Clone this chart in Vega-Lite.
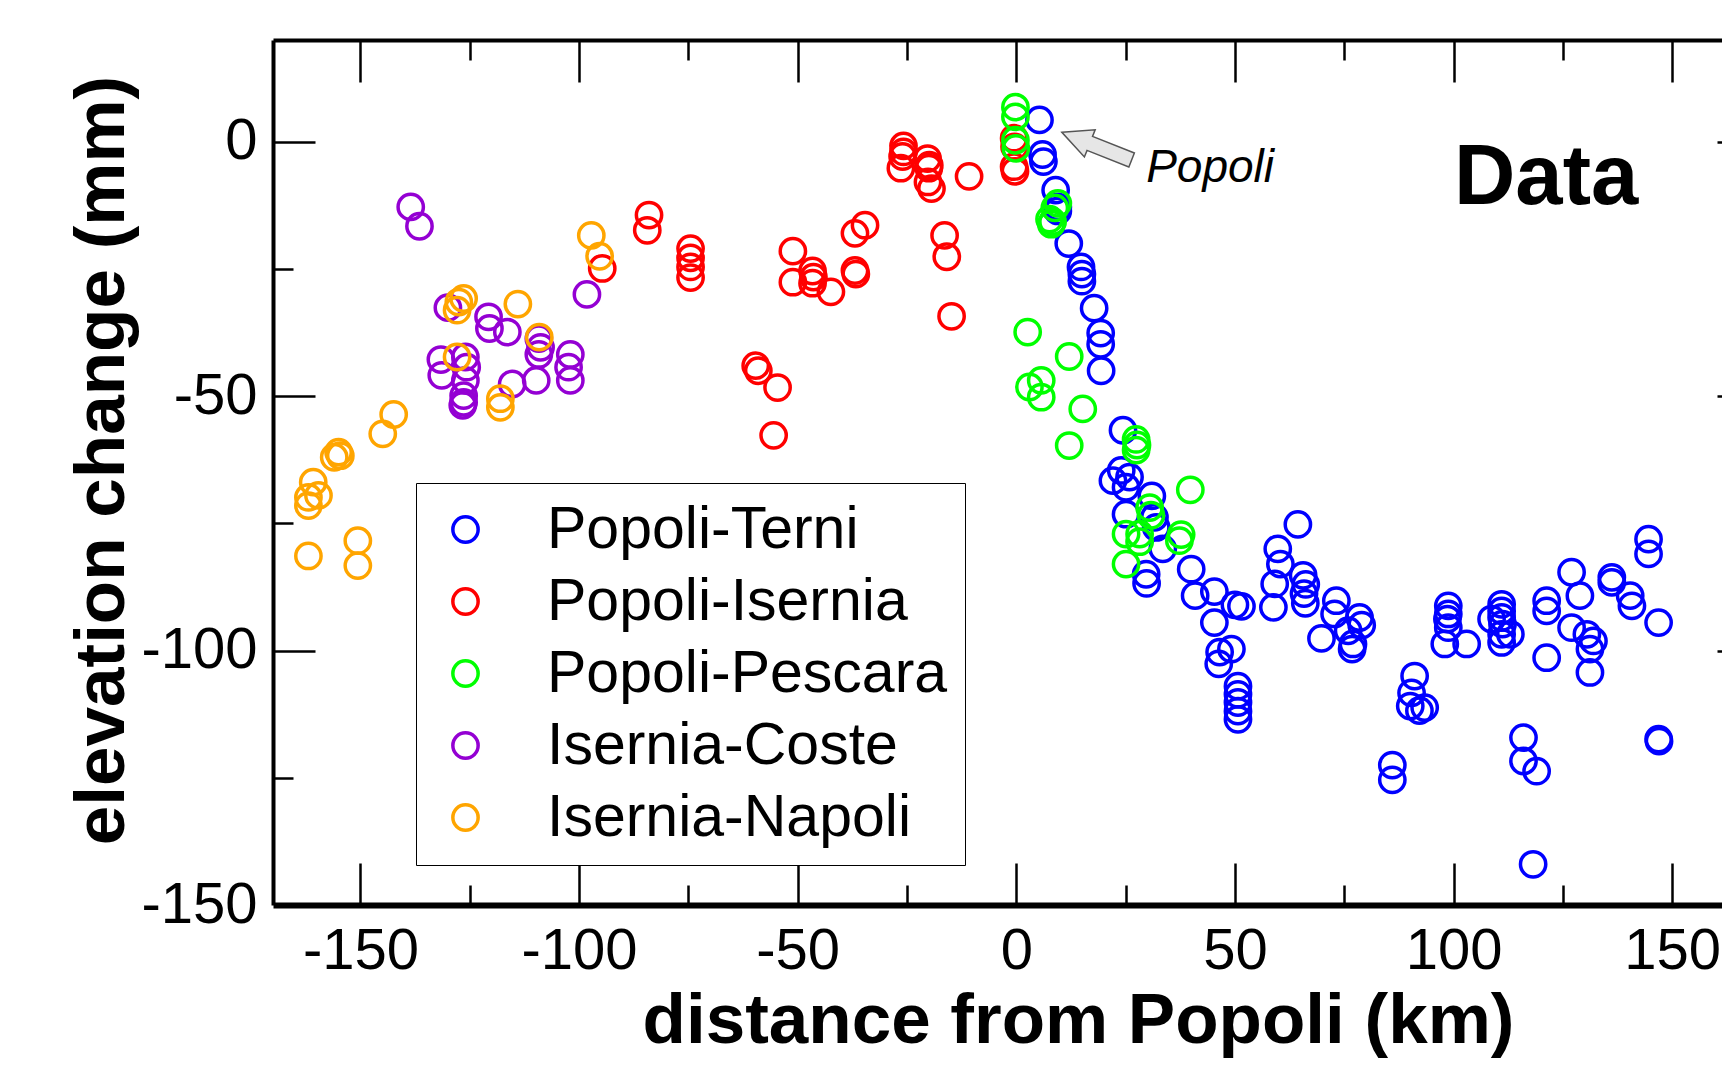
{
  "$schema": "https://vega.github.io/schema/vega-lite/v6.json",
  "width": 1449,
  "height": 865,
  "autosize": {"type": "none"},
  "padding": {"left": 273, "top": 40, "right": 0, "bottom": 160},
  "background": "white",
  "config": {
    "view": {"stroke": null},
    "font": "Liberation Sans",
    "axis": {"grid": false, "domainColor": "black", "tickColor": "black", "labelColor": "black", "titleColor": "black", "labelFlush": false}
  },
  "datasets": {
    "pts": [
      {"s":"Popoli-Terni","d":5.3,"e":4.3},{"s":"Popoli-Terni","d":6.0,"e":-2.5},{"s":"Popoli-Terni","d":6.2,"e":-3.9},{"s":"Popoli-Terni","d":9.0,"e":-9.5},{"s":"Popoli-Terni","d":9.5,"e":-12.8},{"s":"Popoli-Terni","d":9.5,"e":-13.6},{"s":"Popoli-Terni","d":12.0,"e":-20.0},{"s":"Popoli-Terni","d":14.8,"e":-24.6},{"s":"Popoli-Terni","d":15.0,"e":-26.0},{"s":"Popoli-Terni","d":15.0,"e":-27.4},{"s":"Popoli-Terni","d":17.8,"e":-32.7},{"s":"Popoli-Terni","d":19.3,"e":-37.6},{"s":"Popoli-Terni","d":19.3,"e":-39.8},{"s":"Popoli-Terni","d":19.4,"e":-45.0},
      {"s":"Popoli-Terni","d":24.4,"e":-56.7},{"s":"Popoli-Terni","d":24.0,"e":-64.6},{"s":"Popoli-Terni","d":25.9,"e":-65.9},{"s":"Popoli-Terni","d":22.1,"e":-66.6},{"s":"Popoli-Terni","d":25.1,"e":-67.9},{"s":"Popoli-Terni","d":31.0,"e":-69.6},{"s":"Popoli-Terni","d":25.1,"e":-73.2},{"s":"Popoli-Terni","d":31.6,"e":-73.8},{"s":"Popoli-Terni","d":32.0,"e":-75.8},{"s":"Popoli-Terni","d":33.5,"e":-80.0},{"s":"Popoli-Terni","d":29.8,"e":-86.8},{"s":"Popoli-Terni","d":29.7,"e":-85.0},
      {"s":"Popoli-Terni","d":40.0,"e":-84.0},{"s":"Popoli-Terni","d":40.9,"e":-89.2},{"s":"Popoli-Terni","d":45.3,"e":-88.4},{"s":"Popoli-Terni","d":45.3,"e":-94.5},{"s":"Popoli-Terni","d":50.0,"e":-91.0},{"s":"Popoli-Terni","d":51.5,"e":-91.3},{"s":"Popoli-Terni","d":46.5,"e":-100.3},{"s":"Popoli-Terni","d":49.2,"e":-99.7},{"s":"Popoli-Terni","d":46.3,"e":-102.6},
      {"s":"Popoli-Terni","d":50.7,"e":-107.0},{"s":"Popoli-Terni","d":50.7,"e":-108.6},{"s":"Popoli-Terni","d":50.7,"e":-110.2},{"s":"Popoli-Terni","d":50.7,"e":-111.9},{"s":"Popoli-Terni","d":50.7,"e":-113.5},
      {"s":"Popoli-Terni","d":64.4,"e":-75.2},{"s":"Popoli-Terni","d":59.8,"e":-80.0},{"s":"Popoli-Terni","d":60.4,"e":-83.0},{"s":"Popoli-Terni","d":59.1,"e":-86.9},{"s":"Popoli-Terni","d":58.8,"e":-91.5},{"s":"Popoli-Terni","d":65.6,"e":-85.2},{"s":"Popoli-Terni","d":66.2,"e":-87.0},{"s":"Popoli-Terni","d":65.8,"e":-88.8},{"s":"Popoli-Terni","d":66.1,"e":-90.7},
      {"s":"Popoli-Terni","d":73.2,"e":-90.2},{"s":"Popoli-Terni","d":72.8,"e":-92.8},{"s":"Popoli-Terni","d":69.8,"e":-97.6},{"s":"Popoli-Terni","d":78.5,"e":-93.5},{"s":"Popoli-Terni","d":79.0,"e":-95.0},{"s":"Popoli-Terni","d":75.9,"e":-96.1},{"s":"Popoli-Terni","d":77.0,"e":-98.7},{"s":"Popoli-Terni","d":76.8,"e":-99.7},
      {"s":"Popoli-Terni","d":86.0,"e":-122.5},{"s":"Popoli-Terni","d":86.0,"e":-125.4},
      {"s":"Popoli-Terni","d":91.1,"e":-105.0},{"s":"Popoli-Terni","d":90.4,"e":-108.3},{"s":"Popoli-Terni","d":90.1,"e":-110.9},{"s":"Popoli-Terni","d":93.4,"e":-111.2},{"s":"Popoli-Terni","d":92.2,"e":-111.8},
      {"s":"Popoli-Terni","d":98.8,"e":-91.2},{"s":"Popoli-Terni","d":98.8,"e":-92.8},{"s":"Popoli-Terni","d":98.6,"e":-93.8},{"s":"Popoli-Terni","d":98.8,"e":-95.5},{"s":"Popoli-Terni","d":98.0,"e":-98.7},{"s":"Popoli-Terni","d":103.0,"e":-98.7},
      {"s":"Popoli-Terni","d":111.0,"e":-90.9},{"s":"Popoli-Terni","d":111.0,"e":-92.2},{"s":"Popoli-Terni","d":111.0,"e":-93.5},{"s":"Popoli-Terni","d":111.2,"e":-94.8},{"s":"Popoli-Terni","d":111.0,"e":-96.8},{"s":"Popoli-Terni","d":113.0,"e":-96.8},{"s":"Popoli-Terni","d":111.0,"e":-98.4},{"s":"Popoli-Terni","d":108.7,"e":-93.8},
      {"s":"Popoli-Terni","d":121.3,"e":-90.2},{"s":"Popoli-Terni","d":121.3,"e":-92.2},{"s":"Popoli-Terni","d":121.3,"e":-101.4},
      {"s":"Popoli-Terni","d":127.0,"e":-84.6},{"s":"Popoli-Terni","d":128.9,"e":-89.2},{"s":"Popoli-Terni","d":127.0,"e":-95.5},{"s":"Popoli-Terni","d":130.5,"e":-96.8},{"s":"Popoli-Terni","d":132.0,"e":-98.1},{"s":"Popoli-Terni","d":131.2,"e":-99.7},{"s":"Popoli-Terni","d":131.2,"e":-104.3},
      {"s":"Popoli-Terni","d":136.2,"e":-85.6},{"s":"Popoli-Terni","d":136.2,"e":-86.6},{"s":"Popoli-Terni","d":140.4,"e":-89.2},{"s":"Popoli-Terni","d":140.8,"e":-91.2},{"s":"Popoli-Terni","d":144.6,"e":-78.1},{"s":"Popoli-Terni","d":144.6,"e":-81.0},{"s":"Popoli-Terni","d":146.9,"e":-94.5},{"s":"Popoli-Terni","d":146.9,"e":-117.4},{"s":"Popoli-Terni","d":147.0,"e":-117.8},
      {"s":"Popoli-Terni","d":118.2,"e":-142.0},{"s":"Popoli-Terni","d":116.0,"e":-117.1},{"s":"Popoli-Terni","d":116.0,"e":-121.7},{"s":"Popoli-Terni","d":119.0,"e":-123.7},

      {"s":"Popoli-Isernia","d":-84.0,"e":-14.4},{"s":"Popoli-Isernia","d":-84.4,"e":-17.4},{"s":"Popoli-Isernia","d":-94.7,"e":-24.9},{"s":"Popoli-Isernia","d":-74.5,"e":-21.0},{"s":"Popoli-Isernia","d":-74.5,"e":-22.8},{"s":"Popoli-Isernia","d":-74.5,"e":-24.6},{"s":"Popoli-Isernia","d":-74.5,"e":-26.7},
      {"s":"Popoli-Isernia","d":-51.1,"e":-21.5},{"s":"Popoli-Isernia","d":-51.1,"e":-27.6},{"s":"Popoli-Isernia","d":-46.6,"e":-25.4},{"s":"Popoli-Isernia","d":-46.4,"e":-26.6},{"s":"Popoli-Isernia","d":-46.6,"e":-27.8},{"s":"Popoli-Isernia","d":-42.4,"e":-29.5},
      {"s":"Popoli-Isernia","d":-36.9,"e":-18.0},{"s":"Popoli-Isernia","d":-34.6,"e":-16.4},{"s":"Popoli-Isernia","d":-36.9,"e":-25.3},{"s":"Popoli-Isernia","d":-36.7,"e":-26.0},
      {"s":"Popoli-Isernia","d":-59.6,"e":-44.0},{"s":"Popoli-Isernia","d":-59.0,"e":-45.0},{"s":"Popoli-Isernia","d":-54.6,"e":-48.3},{"s":"Popoli-Isernia","d":-55.5,"e":-57.7},
      {"s":"Popoli-Isernia","d":-25.8,"e":-0.8},{"s":"Popoli-Isernia","d":-25.8,"e":-2.0},{"s":"Popoli-Isernia","d":-26.0,"e":-2.9},{"s":"Popoli-Isernia","d":-26.4,"e":-5.2},{"s":"Popoli-Isernia","d":-20.3,"e":-3.3},{"s":"Popoli-Isernia","d":-19.9,"e":-4.6},{"s":"Popoli-Isernia","d":-20.0,"e":-5.2},{"s":"Popoli-Isernia","d":-20.2,"e":-7.9},{"s":"Popoli-Isernia","d":-19.4,"e":-9.2},
      {"s":"Popoli-Isernia","d":-10.8,"e":-6.8},{"s":"Popoli-Isernia","d":-16.4,"e":-18.4},{"s":"Popoli-Isernia","d":-15.9,"e":-22.6},{"s":"Popoli-Isernia","d":-14.8,"e":-34.3},
      {"s":"Popoli-Isernia","d":-0.5,"e":0.7},{"s":"Popoli-Isernia","d":-0.4,"e":-1.0},{"s":"Popoli-Isernia","d":-0.5,"e":-4.9},{"s":"Popoli-Isernia","d":-0.3,"e":-5.8},

      {"s":"Popoli-Pescara","d":-0.2,"e":6.8},{"s":"Popoli-Pescara","d":-0.2,"e":4.9},{"s":"Popoli-Pescara","d":-0.2,"e":0.3},{"s":"Popoli-Pescara","d":-0.1,"e":-1.3},
      {"s":"Popoli-Pescara","d":9.5,"e":-12.1},{"s":"Popoli-Pescara","d":8.8,"e":-13.0},{"s":"Popoli-Pescara","d":8.3,"e":-15.7},{"s":"Popoli-Pescara","d":7.6,"e":-15.2},{"s":"Popoli-Pescara","d":8.0,"e":-16.2},
      {"s":"Popoli-Pescara","d":2.6,"e":-37.4},{"s":"Popoli-Pescara","d":12.1,"e":-42.2},{"s":"Popoli-Pescara","d":3.0,"e":-48.2},{"s":"Popoli-Pescara","d":5.7,"e":-46.9},{"s":"Popoli-Pescara","d":5.7,"e":-50.2},{"s":"Popoli-Pescara","d":15.2,"e":-52.5},{"s":"Popoli-Pescara","d":12.1,"e":-59.7},
      {"s":"Popoli-Pescara","d":27.4,"e":-58.5},{"s":"Popoli-Pescara","d":27.6,"e":-59.6},{"s":"Popoli-Pescara","d":27.4,"e":-60.6},{"s":"Popoli-Pescara","d":39.8,"e":-68.4},{"s":"Popoli-Pescara","d":30.5,"e":-71.9},{"s":"Popoli-Pescara","d":30.8,"e":-73.4},
      {"s":"Popoli-Pescara","d":25.1,"e":-77.1},{"s":"Popoli-Pescara","d":28.2,"e":-77.1},{"s":"Popoli-Pescara","d":28.2,"e":-78.6},{"s":"Popoli-Pescara","d":37.7,"e":-77.2},{"s":"Popoli-Pescara","d":37.3,"e":-78.4},{"s":"Popoli-Pescara","d":25.1,"e":-83.0},

      {"s":"Isernia-Coste","d":-138.5,"e":-12.8},{"s":"Isernia-Coste","d":-136.5,"e":-16.6},{"s":"Isernia-Coste","d":-98.2,"e":-30.0},{"s":"Isernia-Coste","d":-130.0,"e":-32.6},{"s":"Isernia-Coste","d":-120.7,"e":-34.4},{"s":"Isernia-Coste","d":-120.5,"e":-36.7},{"s":"Isernia-Coste","d":-116.4,"e":-37.4},
      {"s":"Isernia-Coste","d":-109.2,"e":-38.7},{"s":"Isernia-Coste","d":-108.8,"e":-40.4},{"s":"Isernia-Coste","d":-109.2,"e":-41.8},{"s":"Isernia-Coste","d":-102.0,"e":-41.8},{"s":"Isernia-Coste","d":-102.4,"e":-44.3},{"s":"Isernia-Coste","d":-102.0,"e":-46.9},{"s":"Isernia-Coste","d":-109.8,"e":-46.9},{"s":"Isernia-Coste","d":-115.3,"e":-47.6},
      {"s":"Isernia-Coste","d":-131.6,"e":-42.8},{"s":"Isernia-Coste","d":-131.4,"e":-45.9},{"s":"Isernia-Coste","d":-126.0,"e":-42.3},{"s":"Isernia-Coste","d":-125.7,"e":-44.3},{"s":"Isernia-Coste","d":-126.0,"e":-46.9},{"s":"Isernia-Coste","d":-126.4,"e":-49.9},{"s":"Isernia-Coste","d":-126.4,"e":-51.2},{"s":"Isernia-Coste","d":-126.6,"e":-51.8},

      {"s":"Isernia-Napoli","d":-97.2,"e":-18.4},{"s":"Isernia-Napoli","d":-95.3,"e":-22.5},{"s":"Isernia-Napoli","d":-127.5,"e":-31.5},{"s":"Isernia-Napoli","d":-126.4,"e":-30.8},{"s":"Isernia-Napoli","d":-127.9,"e":-33.1},{"s":"Isernia-Napoli","d":-114.0,"e":-31.9},{"s":"Isernia-Napoli","d":-109.1,"e":-38.4},{"s":"Isernia-Napoli","d":-127.9,"e":-42.3},
      {"s":"Isernia-Napoli","d":-118.0,"e":-50.5},{"s":"Isernia-Napoli","d":-118.0,"e":-52.2},{"s":"Isernia-Napoli","d":-142.4,"e":-53.6},{"s":"Isernia-Napoli","d":-144.9,"e":-57.4},{"s":"Isernia-Napoli","d":-155.0,"e":-61.0},{"s":"Isernia-Napoli","d":-154.6,"e":-61.7},{"s":"Isernia-Napoli","d":-156.0,"e":-62.0},
      {"s":"Isernia-Napoli","d":-160.8,"e":-66.9},{"s":"Isernia-Napoli","d":-161.9,"e":-69.9},{"s":"Isernia-Napoli","d":-159.6,"e":-69.5},{"s":"Isernia-Napoli","d":-161.9,"e":-71.5},{"s":"Isernia-Napoli","d":-161.9,"e":-81.4},{"s":"Isernia-Napoli","d":-150.6,"e":-78.4},{"s":"Isernia-Napoli","d":-150.6,"e":-83.3}
    ]
  },
  "data": {"name": "pts"},
  "resolve": {"axis": {"x": "independent", "y": "independent"}},
  "layer": [
    {
      "mark": {"type": "point", "opacity": 0},
      "encoding": {
        "x": {"field": "d", "type": "quantitative", "scale": {"domain": [-170, 161.4], "nice": false, "zero": false},
              "axis": {"orient": "bottom", "values": [-150,-100,-50,0,50,100,150], "tickSize": -42, "tickWidth": 2.5, "labels": false, "domain": false, "title": null}},
        "y": {"field": "e", "type": "quantitative", "scale": {"domain": [-150, 20], "nice": false, "zero": false},
              "axis": {"orient": "left", "values": [0,-50,-100], "tickSize": -42, "tickWidth": 2.5, "labels": false, "domain": false, "title": null}}
      }
    },
    {
      "mark": {"type": "point", "opacity": 0},
      "encoding": {
        "x": {"field": "d", "type": "quantitative", "scale": {"domain": [-170, 161.4], "nice": false, "zero": false},
              "axis": {"orient": "bottom", "values": [-125,-75,-25,25,75,125], "tickSize": -20, "tickWidth": 2.5, "labels": false, "domain": false, "title": null}},
        "y": {"field": "e", "type": "quantitative", "scale": {"domain": [-150, 20], "nice": false, "zero": false},
              "axis": {"orient": "left", "values": [-25,-75,-125], "tickSize": -20, "tickWidth": 2.5, "labels": false, "domain": false, "title": null}}
      }
    },
    {
      "mark": {"type": "point", "opacity": 0},
      "encoding": {
        "x": {"field": "d", "type": "quantitative", "scale": {"domain": [-170, 161.4], "nice": false, "zero": false},
              "axis": {"orient": "top", "values": [-150,-100,-50,0,50,100,150], "tickSize": -42, "tickWidth": 2.5, "labels": false, "domain": true, "domainWidth": 4, "title": null}},
        "y": {"field": "e", "type": "quantitative", "scale": {"domain": [-150, 20], "nice": false, "zero": false},
              "axis": {"orient": "right", "values": [0,-50,-100], "tickSize": -5, "tickWidth": 2.5, "labels": false, "domain": false, "title": null}}
      }
    },
    {
      "mark": {"type": "point", "opacity": 0},
      "encoding": {
        "x": {"field": "d", "type": "quantitative", "scale": {"domain": [-170, 161.4], "nice": false, "zero": false},
              "axis": {"orient": "top", "values": [-125,-75,-25,25,75,125], "tickSize": -20, "tickWidth": 2.5, "labels": false, "domain": false, "title": null}},
        "y": {"field": "e", "type": "quantitative", "scale": {"domain": [-150, 20], "nice": false, "zero": false}, "axis": null}
      }
    },
    {
      "mark": {"type": "point", "filled": false, "size": 640, "strokeWidth": 3.5, "opacity": 1},
      "encoding": {
        "x": {"field": "d", "type": "quantitative", "scale": {"domain": [-170, 161.4], "nice": false, "zero": false},
              "axis": {"orient": "bottom", "values": [-150,-100,-50,0,50,100,150], "ticks": false, "domain": true, "domainWidth": 6,
                       "labelFont": "Liberation Sans", "labelFontSize": 58, "labelPadding": 17, "labelExpr": "replace(datum.label, '\u2212', '-')",
                       "title": "distance from Popoli (km)", "titleFont": "Liberation Sans", "titleFontSize": 71, "titleFontWeight": "bold",
                       "titleX": 805, "titleY": 137, "titleAlign": "center", "titleAnchor": "middle", "titleBaseline": "alphabetic"}},
        "y": {"field": "e", "type": "quantitative", "scale": {"domain": [-150, 20], "nice": false, "zero": false},
              "axis": {"orient": "left", "values": [0,-50,-100,-150], "ticks": false, "domain": true, "domainWidth": 4,
                       "labelFont": "Liberation Sans", "labelFontSize": 58, "labelPadding": 16, "labelExpr": "replace(datum.label, '\u2212', '-')",
                       "title": "elevation change (mm)", "titleFont": "Liberation Sans", "titleFontSize": 71, "titleFontWeight": "bold",
                       "titleAngle": 270, "titleX": -150, "titleY": 420, "titleAlign": "center", "titleAnchor": "middle", "titleBaseline": "alphabetic"}},
        "color": {"field": "s", "type": "nominal",
                  "scale": {"domain": ["Popoli-Terni","Popoli-Isernia","Popoli-Pescara","Isernia-Coste","Isernia-Napoli"],
                            "range": ["#0000ff","#ff0000","#00ff00","#9400d3","#ffa500"]},
                  "legend": {"orient": "none", "legendX": 143, "legendY": 443, "title": null,
                             "fillColor": "white", "strokeColor": "black", "padding": 17,
                             "symbolOffset": 3, "labelOffset": 52, "rowPadding": 12,
                             "labelFont": "Liberation Sans", "labelFontSize": 59, "labelColor": "black", "labelLimit": 2000,
                             "symbolType": "circle", "symbolSize": 640, "symbolStrokeWidth": 3.5, "symbolFillColor": "transparent",
                             "encode": {"legend": {"update": {"strokeWidth": {"value": 2.7}}}}}}
      }
    },
    {
      "data": {"values": [{"d": 100.1, "e": -12.25, "t": "Data"}]},
      "mark": {"type": "text", "font": "Liberation Sans", "fontWeight": "bold", "fontSize": 85, "align": "left", "baseline": "alphabetic", "color": "black"},
      "encoding": {
        "x": {"field": "d", "type": "quantitative", "scale": {"domain": [-170, 161.4], "nice": false, "zero": false}, "axis": null},
        "y": {"field": "e", "type": "quantitative", "scale": {"domain": [-150, 20], "nice": false, "zero": false}, "axis": null},
        "text": {"field": "t"}
      }
    },
    {
      "data": {"values": [{"d": 29.7, "e": -7.84, "t": "Popoli"}]},
      "mark": {"type": "text", "font": "Liberation Sans", "fontStyle": "italic", "fontSize": 46, "align": "left", "baseline": "alphabetic", "color": "black"},
      "encoding": {
        "x": {"field": "d", "type": "quantitative", "scale": {"domain": [-170, 161.4], "nice": false, "zero": false}, "axis": null},
        "y": {"field": "e", "type": "quantitative", "scale": {"domain": [-150, 20], "nice": false, "zero": false}, "axis": null},
        "text": {"field": "t"}
      }
    },
    {
      "data": {"values": [{"d": 18.4, "e": -0.86}]},
      "mark": {"type": "point", "shape": "M -1 0 L -0.2 -0.39 L -0.2 -0.2 L 1 -0.2 L 1 0.2 L -0.2 0.2 L -0.2 0.39 Z", "size": 5625, "angle": 21.6, "filled": true, "fill": "#e6e6e6", "stroke": "#555555", "strokeWidth": 1.5, "opacity": 1},
      "encoding": {
        "x": {"field": "d", "type": "quantitative", "scale": {"domain": [-170, 161.4], "nice": false, "zero": false}, "axis": null},
        "y": {"field": "e", "type": "quantitative", "scale": {"domain": [-150, 20], "nice": false, "zero": false}, "axis": null}
      }
    }
  ]
}
